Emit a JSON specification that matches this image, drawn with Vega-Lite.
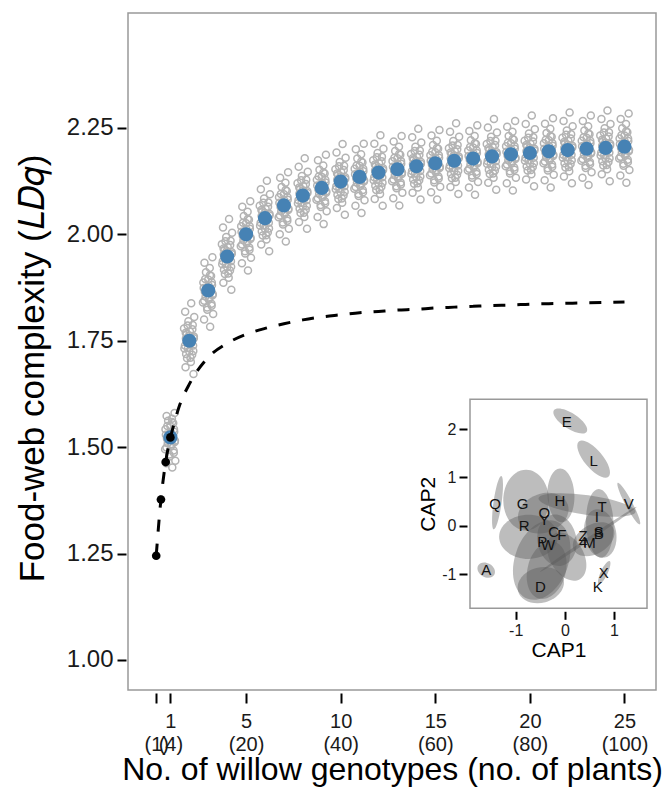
{
"$schema": "https://vega.github.io/schema/vega-lite/v6.json",
"width": 528, "height": 677,
"autosize": {"type": "none"},
"padding": {"left": 128, "top": 13, "right": 8, "bottom": 100},
"background": "white",
"config": {
 "view": {"stroke": "#999999", "strokeWidth": 1.5},
 "font": "Liberation Sans",
 "axis": {"domain": false, "grid": false, "tickColor": "#000000", "tickWidth": 2, "labelColor": "#1a1a1a", "titleColor": "#000000", "labelFont": "Liberation Sans", "titleFont": "Liberation Sans", "titleFontWeight": "normal"}
},
"datasets": {
 "gray": [
{"g":1.10,"v":1.452},{"g":0.78,"v":1.462},{"g":1.26,"v":1.468},{"g":0.95,"v":1.478},{"g":1.18,"v":1.487},{"g":0.72,"v":1.495},{"g":1.03,"v":1.502},{"g":0.86,"v":1.509},{"g":1.24,"v":1.515},{"g":0.82,"v":1.520},{"g":1.12,"v":1.525},{"g":0.92,"v":1.530},{"g":1.20,"v":1.536},{"g":0.74,"v":1.542},{"g":1.00,"v":1.549},{"g":1.15,"v":1.557},{"g":0.88,"v":1.562},{"g":1.08,"v":1.567},{"g":0.80,"v":1.573},{"g":1.22,"v":1.580},
{"g":2.22,"v":1.672},{"g":1.80,"v":1.688},{"g":2.08,"v":1.700},{"g":1.88,"v":1.709},{"g":2.15,"v":1.717},{"g":2.00,"v":1.725},{"g":1.74,"v":1.732},{"g":2.20,"v":1.739},{"g":1.92,"v":1.745},{"g":2.12,"v":1.750},{"g":1.82,"v":1.755},{"g":2.24,"v":1.760},{"g":1.86,"v":1.766},{"g":2.03,"v":1.772},{"g":1.72,"v":1.779},{"g":2.18,"v":1.787},{"g":1.95,"v":1.796},{"g":2.26,"v":1.806},{"g":1.78,"v":1.818},{"g":2.10,"v":1.838},
{"g":3.10,"v":1.783},{"g":2.78,"v":1.800},{"g":3.26,"v":1.813},{"g":2.95,"v":1.823},{"g":3.18,"v":1.832},{"g":2.72,"v":1.840},{"g":3.03,"v":1.847},{"g":2.86,"v":1.854},{"g":3.24,"v":1.860},{"g":2.82,"v":1.865},{"g":3.12,"v":1.870},{"g":2.92,"v":1.875},{"g":3.20,"v":1.881},{"g":2.74,"v":1.887},{"g":3.00,"v":1.894},{"g":3.15,"v":1.902},{"g":2.88,"v":1.911},{"g":3.08,"v":1.921},{"g":2.80,"v":1.933},{"g":3.22,"v":1.946},
{"g":4.22,"v":1.870},{"g":3.80,"v":1.886},{"g":4.08,"v":1.898},{"g":3.88,"v":1.907},{"g":4.15,"v":1.915},{"g":4.00,"v":1.923},{"g":3.74,"v":1.930},{"g":4.20,"v":1.937},{"g":3.92,"v":1.943},{"g":4.12,"v":1.948},{"g":3.82,"v":1.953},{"g":4.24,"v":1.958},{"g":3.86,"v":1.964},{"g":4.03,"v":1.970},{"g":3.72,"v":1.977},{"g":4.18,"v":1.985},{"g":3.95,"v":1.994},{"g":4.26,"v":2.004},{"g":3.78,"v":2.016},{"g":4.10,"v":2.036},
{"g":5.10,"v":1.915},{"g":4.78,"v":1.932},{"g":5.26,"v":1.945},{"g":4.95,"v":1.955},{"g":5.18,"v":1.964},{"g":4.72,"v":1.972},{"g":5.03,"v":1.979},{"g":4.86,"v":1.986},{"g":5.24,"v":1.992},{"g":4.82,"v":1.997},{"g":5.12,"v":2.002},{"g":4.92,"v":2.007},{"g":5.20,"v":2.013},{"g":4.74,"v":2.019},{"g":5.00,"v":2.026},{"g":5.15,"v":2.034},{"g":4.88,"v":2.043},{"g":5.08,"v":2.053},{"g":4.80,"v":2.065},{"g":5.22,"v":2.078},
{"g":6.22,"v":1.960},{"g":5.80,"v":1.976},{"g":6.08,"v":1.988},{"g":5.88,"v":1.997},{"g":6.15,"v":2.005},{"g":6.00,"v":2.013},{"g":5.74,"v":2.020},{"g":6.20,"v":2.027},{"g":5.92,"v":2.033},{"g":6.12,"v":2.038},{"g":5.82,"v":2.043},{"g":6.24,"v":2.048},{"g":5.86,"v":2.054},{"g":6.03,"v":2.060},{"g":5.72,"v":2.067},{"g":6.18,"v":2.075},{"g":5.95,"v":2.084},{"g":6.26,"v":2.094},{"g":5.78,"v":2.106},{"g":6.10,"v":2.126},
{"g":7.10,"v":1.983},{"g":6.78,"v":2.000},{"g":7.26,"v":2.013},{"g":6.95,"v":2.023},{"g":7.18,"v":2.032},{"g":6.72,"v":2.040},{"g":7.03,"v":2.047},{"g":6.86,"v":2.054},{"g":7.24,"v":2.060},{"g":6.82,"v":2.065},{"g":7.12,"v":2.070},{"g":6.92,"v":2.075},{"g":7.20,"v":2.081},{"g":6.74,"v":2.087},{"g":7.00,"v":2.094},{"g":7.15,"v":2.102},{"g":6.88,"v":2.111},{"g":7.08,"v":2.121},{"g":6.80,"v":2.133},{"g":7.22,"v":2.146},
{"g":8.22,"v":2.013},{"g":7.80,"v":2.029},{"g":8.08,"v":2.041},{"g":7.88,"v":2.050},{"g":8.15,"v":2.058},{"g":8.00,"v":2.066},{"g":7.74,"v":2.073},{"g":8.20,"v":2.080},{"g":7.92,"v":2.086},{"g":8.12,"v":2.091},{"g":7.82,"v":2.096},{"g":8.24,"v":2.101},{"g":7.86,"v":2.107},{"g":8.03,"v":2.113},{"g":7.72,"v":2.120},{"g":8.18,"v":2.128},{"g":7.95,"v":2.137},{"g":8.26,"v":2.147},{"g":7.78,"v":2.159},{"g":8.10,"v":2.179},
{"g":9.10,"v":2.024},{"g":8.78,"v":2.041},{"g":9.26,"v":2.054},{"g":8.95,"v":2.064},{"g":9.18,"v":2.073},{"g":8.72,"v":2.081},{"g":9.03,"v":2.088},{"g":8.86,"v":2.095},{"g":9.24,"v":2.101},{"g":8.82,"v":2.106},{"g":9.12,"v":2.111},{"g":8.92,"v":2.116},{"g":9.20,"v":2.122},{"g":8.74,"v":2.128},{"g":9.00,"v":2.135},{"g":9.15,"v":2.143},{"g":8.88,"v":2.152},{"g":9.08,"v":2.162},{"g":8.80,"v":2.174},{"g":9.22,"v":2.187},
{"g":10.22,"v":2.046},{"g":9.80,"v":2.062},{"g":10.08,"v":2.074},{"g":9.88,"v":2.083},{"g":10.15,"v":2.091},{"g":10.00,"v":2.099},{"g":9.74,"v":2.106},{"g":10.20,"v":2.113},{"g":9.92,"v":2.119},{"g":10.12,"v":2.124},{"g":9.82,"v":2.129},{"g":10.24,"v":2.134},{"g":9.86,"v":2.140},{"g":10.03,"v":2.146},{"g":9.72,"v":2.153},{"g":10.18,"v":2.161},{"g":9.95,"v":2.170},{"g":10.26,"v":2.180},{"g":9.78,"v":2.192},{"g":10.10,"v":2.212},
{"g":11.10,"v":2.050},{"g":10.78,"v":2.067},{"g":11.26,"v":2.080},{"g":10.95,"v":2.090},{"g":11.18,"v":2.099},{"g":10.72,"v":2.107},{"g":11.03,"v":2.114},{"g":10.86,"v":2.121},{"g":11.24,"v":2.127},{"g":10.82,"v":2.132},{"g":11.12,"v":2.137},{"g":10.92,"v":2.142},{"g":11.20,"v":2.148},{"g":10.74,"v":2.154},{"g":11.00,"v":2.161},{"g":11.15,"v":2.169},{"g":10.88,"v":2.178},{"g":11.08,"v":2.188},{"g":10.80,"v":2.200},{"g":11.22,"v":2.213},
{"g":12.22,"v":2.067},{"g":11.80,"v":2.083},{"g":12.08,"v":2.095},{"g":11.88,"v":2.104},{"g":12.15,"v":2.112},{"g":12.00,"v":2.120},{"g":11.74,"v":2.127},{"g":12.20,"v":2.134},{"g":11.92,"v":2.140},{"g":12.12,"v":2.145},{"g":11.82,"v":2.150},{"g":12.24,"v":2.155},{"g":11.86,"v":2.161},{"g":12.03,"v":2.167},{"g":11.72,"v":2.174},{"g":12.18,"v":2.182},{"g":11.95,"v":2.191},{"g":12.26,"v":2.201},{"g":11.78,"v":2.213},{"g":12.10,"v":2.233},
{"g":13.10,"v":2.068},{"g":12.78,"v":2.085},{"g":13.26,"v":2.098},{"g":12.95,"v":2.108},{"g":13.18,"v":2.117},{"g":12.72,"v":2.125},{"g":13.03,"v":2.132},{"g":12.86,"v":2.139},{"g":13.24,"v":2.145},{"g":12.82,"v":2.150},{"g":13.12,"v":2.155},{"g":12.92,"v":2.160},{"g":13.20,"v":2.166},{"g":12.74,"v":2.172},{"g":13.00,"v":2.179},{"g":13.15,"v":2.187},{"g":12.88,"v":2.196},{"g":13.08,"v":2.206},{"g":12.80,"v":2.218},{"g":13.22,"v":2.231},
{"g":14.22,"v":2.082},{"g":13.80,"v":2.098},{"g":14.08,"v":2.110},{"g":13.88,"v":2.119},{"g":14.15,"v":2.127},{"g":14.00,"v":2.135},{"g":13.74,"v":2.142},{"g":14.20,"v":2.149},{"g":13.92,"v":2.155},{"g":14.12,"v":2.160},{"g":13.82,"v":2.165},{"g":14.24,"v":2.170},{"g":13.86,"v":2.176},{"g":14.03,"v":2.182},{"g":13.72,"v":2.189},{"g":14.18,"v":2.197},{"g":13.95,"v":2.206},{"g":14.26,"v":2.216},{"g":13.78,"v":2.228},{"g":14.10,"v":2.248},
{"g":15.10,"v":2.082},{"g":14.78,"v":2.099},{"g":15.26,"v":2.112},{"g":14.95,"v":2.122},{"g":15.18,"v":2.131},{"g":14.72,"v":2.139},{"g":15.03,"v":2.146},{"g":14.86,"v":2.153},{"g":15.24,"v":2.159},{"g":14.82,"v":2.164},{"g":15.12,"v":2.169},{"g":14.92,"v":2.174},{"g":15.20,"v":2.180},{"g":14.74,"v":2.186},{"g":15.00,"v":2.193},{"g":15.15,"v":2.201},{"g":14.88,"v":2.210},{"g":15.08,"v":2.220},{"g":14.80,"v":2.232},{"g":15.22,"v":2.245},
{"g":16.22,"v":2.095},{"g":15.80,"v":2.111},{"g":16.08,"v":2.123},{"g":15.88,"v":2.132},{"g":16.15,"v":2.140},{"g":16.00,"v":2.148},{"g":15.74,"v":2.155},{"g":16.20,"v":2.162},{"g":15.92,"v":2.168},{"g":16.12,"v":2.173},{"g":15.82,"v":2.178},{"g":16.24,"v":2.183},{"g":15.86,"v":2.189},{"g":16.03,"v":2.195},{"g":15.72,"v":2.202},{"g":16.18,"v":2.210},{"g":15.95,"v":2.219},{"g":16.26,"v":2.229},{"g":15.78,"v":2.241},{"g":16.10,"v":2.261},
{"g":17.10,"v":2.093},{"g":16.78,"v":2.110},{"g":17.26,"v":2.123},{"g":16.95,"v":2.133},{"g":17.18,"v":2.142},{"g":16.72,"v":2.150},{"g":17.03,"v":2.157},{"g":16.86,"v":2.164},{"g":17.24,"v":2.170},{"g":16.82,"v":2.175},{"g":17.12,"v":2.180},{"g":16.92,"v":2.185},{"g":17.20,"v":2.191},{"g":16.74,"v":2.197},{"g":17.00,"v":2.204},{"g":17.15,"v":2.212},{"g":16.88,"v":2.221},{"g":17.08,"v":2.231},{"g":16.80,"v":2.243},{"g":17.22,"v":2.256},
{"g":18.22,"v":2.105},{"g":17.80,"v":2.121},{"g":18.08,"v":2.133},{"g":17.88,"v":2.142},{"g":18.15,"v":2.150},{"g":18.00,"v":2.158},{"g":17.74,"v":2.165},{"g":18.20,"v":2.172},{"g":17.92,"v":2.178},{"g":18.12,"v":2.183},{"g":17.82,"v":2.188},{"g":18.24,"v":2.193},{"g":17.86,"v":2.199},{"g":18.03,"v":2.205},{"g":17.72,"v":2.212},{"g":18.18,"v":2.220},{"g":17.95,"v":2.229},{"g":18.26,"v":2.239},{"g":17.78,"v":2.251},{"g":18.10,"v":2.271},
{"g":19.10,"v":2.103},{"g":18.78,"v":2.120},{"g":19.26,"v":2.133},{"g":18.95,"v":2.143},{"g":19.18,"v":2.152},{"g":18.72,"v":2.160},{"g":19.03,"v":2.167},{"g":18.86,"v":2.174},{"g":19.24,"v":2.180},{"g":18.82,"v":2.185},{"g":19.12,"v":2.190},{"g":18.92,"v":2.195},{"g":19.20,"v":2.201},{"g":18.74,"v":2.207},{"g":19.00,"v":2.214},{"g":19.15,"v":2.222},{"g":18.88,"v":2.231},{"g":19.08,"v":2.241},{"g":18.80,"v":2.253},{"g":19.22,"v":2.266},
{"g":20.22,"v":2.113},{"g":19.80,"v":2.129},{"g":20.08,"v":2.141},{"g":19.88,"v":2.150},{"g":20.15,"v":2.158},{"g":20.00,"v":2.166},{"g":19.74,"v":2.173},{"g":20.20,"v":2.180},{"g":19.92,"v":2.186},{"g":20.12,"v":2.191},{"g":19.82,"v":2.196},{"g":20.24,"v":2.201},{"g":19.86,"v":2.207},{"g":20.03,"v":2.213},{"g":19.72,"v":2.220},{"g":20.18,"v":2.228},{"g":19.95,"v":2.237},{"g":20.26,"v":2.247},{"g":19.78,"v":2.259},{"g":20.10,"v":2.279},
{"g":21.10,"v":2.110},{"g":20.78,"v":2.127},{"g":21.26,"v":2.140},{"g":20.95,"v":2.150},{"g":21.18,"v":2.159},{"g":20.72,"v":2.167},{"g":21.03,"v":2.174},{"g":20.86,"v":2.181},{"g":21.24,"v":2.187},{"g":20.82,"v":2.192},{"g":21.12,"v":2.197},{"g":20.92,"v":2.202},{"g":21.20,"v":2.208},{"g":20.74,"v":2.214},{"g":21.00,"v":2.221},{"g":21.15,"v":2.229},{"g":20.88,"v":2.238},{"g":21.08,"v":2.248},{"g":20.80,"v":2.260},{"g":21.22,"v":2.273},
{"g":22.22,"v":2.120},{"g":21.80,"v":2.136},{"g":22.08,"v":2.148},{"g":21.88,"v":2.157},{"g":22.15,"v":2.165},{"g":22.00,"v":2.173},{"g":21.74,"v":2.180},{"g":22.20,"v":2.187},{"g":21.92,"v":2.193},{"g":22.12,"v":2.198},{"g":21.82,"v":2.203},{"g":22.24,"v":2.208},{"g":21.86,"v":2.214},{"g":22.03,"v":2.220},{"g":21.72,"v":2.227},{"g":22.18,"v":2.235},{"g":21.95,"v":2.244},{"g":22.26,"v":2.254},{"g":21.78,"v":2.266},{"g":22.10,"v":2.286},
{"g":23.10,"v":2.116},{"g":22.78,"v":2.133},{"g":23.26,"v":2.146},{"g":22.95,"v":2.156},{"g":23.18,"v":2.165},{"g":22.72,"v":2.173},{"g":23.03,"v":2.180},{"g":22.86,"v":2.187},{"g":23.24,"v":2.193},{"g":22.82,"v":2.198},{"g":23.12,"v":2.203},{"g":22.92,"v":2.208},{"g":23.20,"v":2.214},{"g":22.74,"v":2.220},{"g":23.00,"v":2.227},{"g":23.15,"v":2.235},{"g":22.88,"v":2.244},{"g":23.08,"v":2.254},{"g":22.80,"v":2.266},{"g":23.22,"v":2.279},
{"g":24.22,"v":2.125},{"g":23.80,"v":2.141},{"g":24.08,"v":2.153},{"g":23.88,"v":2.162},{"g":24.15,"v":2.170},{"g":24.00,"v":2.178},{"g":23.74,"v":2.185},{"g":24.20,"v":2.192},{"g":23.92,"v":2.198},{"g":24.12,"v":2.203},{"g":23.82,"v":2.208},{"g":24.24,"v":2.213},{"g":23.86,"v":2.219},{"g":24.03,"v":2.225},{"g":23.72,"v":2.232},{"g":24.18,"v":2.240},{"g":23.95,"v":2.249},{"g":24.26,"v":2.259},{"g":23.78,"v":2.271},{"g":24.10,"v":2.291},
{"g":25.10,"v":2.121},{"g":24.78,"v":2.138},{"g":25.26,"v":2.151},{"g":24.95,"v":2.161},{"g":25.18,"v":2.170},{"g":24.72,"v":2.178},{"g":25.03,"v":2.185},{"g":24.86,"v":2.192},{"g":25.24,"v":2.198},{"g":24.82,"v":2.203},{"g":25.12,"v":2.208},{"g":24.92,"v":2.213},{"g":25.20,"v":2.219},{"g":24.74,"v":2.225},{"g":25.00,"v":2.232},{"g":25.15,"v":2.240},{"g":24.88,"v":2.249},{"g":25.08,"v":2.259},{"g":24.80,"v":2.271},{"g":25.22,"v":2.284},
{"g":0.94,"v":1.483},{"g":1.17,"v":1.492},{"g":0.79,"v":1.499},{"g":1.07,"v":1.506},{"g":1.23,"v":1.512},{"g":0.89,"v":1.518},{"g":1.13,"v":1.523},{"g":0.76,"v":1.529},{"g":1.02,"v":1.535},{"g":1.19,"v":1.542},{"g":0.84,"v":1.550},{"g":1.09,"v":1.559},
{"g":2.06,"v":1.710},{"g":1.83,"v":1.719},{"g":2.21,"v":1.726},{"g":1.93,"v":1.733},{"g":1.77,"v":1.739},{"g":2.11,"v":1.745},{"g":1.87,"v":1.750},{"g":2.24,"v":1.756},{"g":1.98,"v":1.762},{"g":1.81,"v":1.769},{"g":2.16,"v":1.777},{"g":1.91,"v":1.786},
{"g":2.94,"v":1.828},{"g":3.17,"v":1.837},{"g":2.79,"v":1.844},{"g":3.07,"v":1.851},{"g":3.23,"v":1.857},{"g":2.89,"v":1.863},{"g":3.13,"v":1.868},{"g":2.76,"v":1.874},{"g":3.02,"v":1.880},{"g":3.19,"v":1.887},{"g":2.84,"v":1.895},{"g":3.09,"v":1.904},
{"g":4.06,"v":1.908},{"g":3.83,"v":1.917},{"g":4.21,"v":1.924},{"g":3.93,"v":1.931},{"g":3.77,"v":1.937},{"g":4.11,"v":1.943},{"g":3.87,"v":1.948},{"g":4.24,"v":1.954},{"g":3.98,"v":1.960},{"g":3.81,"v":1.967},{"g":4.16,"v":1.975},{"g":3.91,"v":1.984},
{"g":4.94,"v":1.960},{"g":5.17,"v":1.969},{"g":4.79,"v":1.976},{"g":5.07,"v":1.983},{"g":5.23,"v":1.989},{"g":4.89,"v":1.995},{"g":5.13,"v":2.000},{"g":4.76,"v":2.006},{"g":5.02,"v":2.012},{"g":5.19,"v":2.019},{"g":4.84,"v":2.027},{"g":5.09,"v":2.036},
{"g":6.06,"v":1.998},{"g":5.83,"v":2.007},{"g":6.21,"v":2.014},{"g":5.93,"v":2.021},{"g":5.77,"v":2.027},{"g":6.11,"v":2.033},{"g":5.87,"v":2.038},{"g":6.24,"v":2.044},{"g":5.98,"v":2.050},{"g":5.81,"v":2.057},{"g":6.16,"v":2.065},{"g":5.91,"v":2.074},
{"g":6.94,"v":2.028},{"g":7.17,"v":2.037},{"g":6.79,"v":2.044},{"g":7.07,"v":2.051},{"g":7.23,"v":2.057},{"g":6.89,"v":2.063},{"g":7.13,"v":2.068},{"g":6.76,"v":2.074},{"g":7.02,"v":2.080},{"g":7.19,"v":2.087},{"g":6.84,"v":2.095},{"g":7.09,"v":2.104},
{"g":8.06,"v":2.051},{"g":7.83,"v":2.060},{"g":8.21,"v":2.067},{"g":7.93,"v":2.074},{"g":7.77,"v":2.080},{"g":8.11,"v":2.086},{"g":7.87,"v":2.091},{"g":8.24,"v":2.097},{"g":7.98,"v":2.103},{"g":7.81,"v":2.110},{"g":8.16,"v":2.118},{"g":7.91,"v":2.127},
{"g":8.94,"v":2.069},{"g":9.17,"v":2.078},{"g":8.79,"v":2.085},{"g":9.07,"v":2.092},{"g":9.23,"v":2.098},{"g":8.89,"v":2.104},{"g":9.13,"v":2.109},{"g":8.76,"v":2.115},{"g":9.02,"v":2.121},{"g":9.19,"v":2.128},{"g":8.84,"v":2.136},{"g":9.09,"v":2.145},
{"g":10.06,"v":2.084},{"g":9.83,"v":2.093},{"g":10.21,"v":2.100},{"g":9.93,"v":2.107},{"g":9.77,"v":2.113},{"g":10.11,"v":2.119},{"g":9.87,"v":2.124},{"g":10.24,"v":2.130},{"g":9.98,"v":2.136},{"g":9.81,"v":2.143},{"g":10.16,"v":2.151},{"g":9.91,"v":2.160},
{"g":10.94,"v":2.095},{"g":11.17,"v":2.104},{"g":10.79,"v":2.111},{"g":11.07,"v":2.118},{"g":11.23,"v":2.124},{"g":10.89,"v":2.130},{"g":11.13,"v":2.135},{"g":10.76,"v":2.141},{"g":11.02,"v":2.147},{"g":11.19,"v":2.154},{"g":10.84,"v":2.162},{"g":11.09,"v":2.171},
{"g":12.06,"v":2.105},{"g":11.83,"v":2.114},{"g":12.21,"v":2.121},{"g":11.93,"v":2.128},{"g":11.77,"v":2.134},{"g":12.11,"v":2.140},{"g":11.87,"v":2.145},{"g":12.24,"v":2.151},{"g":11.98,"v":2.157},{"g":11.81,"v":2.164},{"g":12.16,"v":2.172},{"g":11.91,"v":2.181},
{"g":12.94,"v":2.113},{"g":13.17,"v":2.122},{"g":12.79,"v":2.129},{"g":13.07,"v":2.136},{"g":13.23,"v":2.142},{"g":12.89,"v":2.148},{"g":13.13,"v":2.153},{"g":12.76,"v":2.159},{"g":13.02,"v":2.165},{"g":13.19,"v":2.172},{"g":12.84,"v":2.180},{"g":13.09,"v":2.189},
{"g":14.06,"v":2.120},{"g":13.83,"v":2.129},{"g":14.21,"v":2.136},{"g":13.93,"v":2.143},{"g":13.77,"v":2.149},{"g":14.11,"v":2.155},{"g":13.87,"v":2.160},{"g":14.24,"v":2.166},{"g":13.98,"v":2.172},{"g":13.81,"v":2.179},{"g":14.16,"v":2.187},{"g":13.91,"v":2.196},
{"g":14.94,"v":2.127},{"g":15.17,"v":2.136},{"g":14.79,"v":2.143},{"g":15.07,"v":2.150},{"g":15.23,"v":2.156},{"g":14.89,"v":2.162},{"g":15.13,"v":2.167},{"g":14.76,"v":2.173},{"g":15.02,"v":2.179},{"g":15.19,"v":2.186},{"g":14.84,"v":2.194},{"g":15.09,"v":2.203},
{"g":16.06,"v":2.133},{"g":15.83,"v":2.142},{"g":16.21,"v":2.149},{"g":15.93,"v":2.156},{"g":15.77,"v":2.162},{"g":16.11,"v":2.168},{"g":15.87,"v":2.173},{"g":16.24,"v":2.179},{"g":15.98,"v":2.185},{"g":15.81,"v":2.192},{"g":16.16,"v":2.200},{"g":15.91,"v":2.209},
{"g":16.94,"v":2.138},{"g":17.17,"v":2.147},{"g":16.79,"v":2.154},{"g":17.07,"v":2.161},{"g":17.23,"v":2.167},{"g":16.89,"v":2.173},{"g":17.13,"v":2.178},{"g":16.76,"v":2.184},{"g":17.02,"v":2.190},{"g":17.19,"v":2.197},{"g":16.84,"v":2.205},{"g":17.09,"v":2.214},
{"g":18.06,"v":2.143},{"g":17.83,"v":2.152},{"g":18.21,"v":2.159},{"g":17.93,"v":2.166},{"g":17.77,"v":2.172},{"g":18.11,"v":2.178},{"g":17.87,"v":2.183},{"g":18.24,"v":2.189},{"g":17.98,"v":2.195},{"g":17.81,"v":2.202},{"g":18.16,"v":2.210},{"g":17.91,"v":2.219},
{"g":18.94,"v":2.148},{"g":19.17,"v":2.157},{"g":18.79,"v":2.164},{"g":19.07,"v":2.171},{"g":19.23,"v":2.177},{"g":18.89,"v":2.183},{"g":19.13,"v":2.188},{"g":18.76,"v":2.194},{"g":19.02,"v":2.200},{"g":19.19,"v":2.207},{"g":18.84,"v":2.215},{"g":19.09,"v":2.224},
{"g":20.06,"v":2.151},{"g":19.83,"v":2.160},{"g":20.21,"v":2.167},{"g":19.93,"v":2.174},{"g":19.77,"v":2.180},{"g":20.11,"v":2.186},{"g":19.87,"v":2.191},{"g":20.24,"v":2.197},{"g":19.98,"v":2.203},{"g":19.81,"v":2.210},{"g":20.16,"v":2.218},{"g":19.91,"v":2.227},
{"g":20.94,"v":2.155},{"g":21.17,"v":2.164},{"g":20.79,"v":2.171},{"g":21.07,"v":2.178},{"g":21.23,"v":2.184},{"g":20.89,"v":2.190},{"g":21.13,"v":2.195},{"g":20.76,"v":2.201},{"g":21.02,"v":2.207},{"g":21.19,"v":2.214},{"g":20.84,"v":2.222},{"g":21.09,"v":2.231},
{"g":22.06,"v":2.158},{"g":21.83,"v":2.167},{"g":22.21,"v":2.174},{"g":21.93,"v":2.181},{"g":21.77,"v":2.187},{"g":22.11,"v":2.193},{"g":21.87,"v":2.198},{"g":22.24,"v":2.204},{"g":21.98,"v":2.210},{"g":21.81,"v":2.217},{"g":22.16,"v":2.225},{"g":21.91,"v":2.234},
{"g":22.94,"v":2.161},{"g":23.17,"v":2.170},{"g":22.79,"v":2.177},{"g":23.07,"v":2.184},{"g":23.23,"v":2.190},{"g":22.89,"v":2.196},{"g":23.13,"v":2.201},{"g":22.76,"v":2.207},{"g":23.02,"v":2.213},{"g":23.19,"v":2.220},{"g":22.84,"v":2.228},{"g":23.09,"v":2.237},
{"g":24.06,"v":2.163},{"g":23.83,"v":2.172},{"g":24.21,"v":2.179},{"g":23.93,"v":2.186},{"g":23.77,"v":2.192},{"g":24.11,"v":2.198},{"g":23.87,"v":2.203},{"g":24.24,"v":2.209},{"g":23.98,"v":2.215},{"g":23.81,"v":2.222},{"g":24.16,"v":2.230},{"g":23.91,"v":2.239},
{"g":24.94,"v":2.166},{"g":25.17,"v":2.175},{"g":24.79,"v":2.182},{"g":25.07,"v":2.189},{"g":25.23,"v":2.195},{"g":24.89,"v":2.201},{"g":25.13,"v":2.206},{"g":24.76,"v":2.212},{"g":25.02,"v":2.218},{"g":25.19,"v":2.225},{"g":24.84,"v":2.233},{"g":25.09,"v":2.242}
 ],
 "means": [
{"g":1,"v":1.523},{"g":2,"v":1.750},{"g":3,"v":1.868},{"g":4,"v":1.948},{"g":5,"v":2.000},{"g":6,"v":2.038},{"g":7,"v":2.068},{"g":8,"v":2.091},{"g":9,"v":2.109},{"g":10,"v":2.124},{"g":11,"v":2.135},{"g":12,"v":2.145},{"g":13,"v":2.153},{"g":14,"v":2.160},{"g":15,"v":2.167},{"g":16,"v":2.173},{"g":17,"v":2.178},{"g":18,"v":2.183},{"g":19,"v":2.188},{"g":20,"v":2.191},{"g":21,"v":2.195},{"g":22,"v":2.198},{"g":23,"v":2.201},{"g":24,"v":2.203},{"g":25,"v":2.206}
 ],
 "expected": [
{"part":"plants","g":0.25,"v":1.245},{"part":"plants","g":0.5,"v":1.377},{"part":"plants","g":0.75,"v":1.465},{"part":"plants","g":1,"v":1.523},
{"part":"genotypes","g":1,"v":1.523},{"part":"genotypes","g":1.5,"v":1.600},{"part":"genotypes","g":2,"v":1.648},{"part":"genotypes","g":3,"v":1.711},{"part":"genotypes","g":4,"v":1.744},{"part":"genotypes","g":5,"v":1.765},{"part":"genotypes","g":6,"v":1.779},{"part":"genotypes","g":7,"v":1.790},{"part":"genotypes","g":8,"v":1.799},{"part":"genotypes","g":9,"v":1.806},{"part":"genotypes","g":10,"v":1.811},{"part":"genotypes","g":11,"v":1.816},{"part":"genotypes","g":12,"v":1.819},{"part":"genotypes","g":13,"v":1.822},{"part":"genotypes","g":14,"v":1.824},{"part":"genotypes","g":15,"v":1.827},{"part":"genotypes","g":16,"v":1.829},{"part":"genotypes","g":17,"v":1.831},{"part":"genotypes","g":18,"v":1.833},{"part":"genotypes","g":19,"v":1.834},{"part":"genotypes","g":20,"v":1.836},{"part":"genotypes","g":21,"v":1.837},{"part":"genotypes","g":22,"v":1.838},{"part":"genotypes","g":23,"v":1.839},{"part":"genotypes","g":24,"v":1.840},{"part":"genotypes","g":25,"v":1.841}
 ],
 "ellipses": [
{"c1":0.11,"c2":2.17,"a":0.4,"ratio":0.4,"ang":33},
{"c1":0.585,"c2":1.38,"a":0.47,"ratio":0.4,"ang":50},
{"c1":-1.37,"c2":0.48,"a":0.55,"ratio":0.15,"ang":-82},
{"c1":-1.6,"c2":-0.92,"a":0.19,"ratio":0.75,"ang":30},
{"c1":-0.79,"c2":0.53,"a":0.62,"ratio":0.75,"ang":90},
{"c1":-0.08,"c2":0.63,"a":0.55,"ratio":0.5,"ang":88},
{"c1":0.45,"c2":0.43,"a":1.0,"ratio":0.2,"ang":8},
{"c1":1.3,"c2":0.46,"a":0.48,"ratio":0.15,"ang":62},
{"c1":0.48,"c2":-0.28,"a":1.19,"ratio":0.03,"ang":-34},
{"c1":0.71,"c2":0.05,"a":0.7,"ratio":0.4,"ang":88},
{"c1":0.585,"c2":-0.28,"a":0.46,"ratio":0.65,"ang":-30},
{"c1":0.72,"c2":-0.16,"a":0.5,"ratio":0.65,"ang":80},
{"c1":-0.47,"c2":-0.71,"a":0.84,"ratio":0.65,"ang":-70},
{"c1":-0.74,"c2":-0.23,"a":0.6,"ratio":0.75,"ang":0},
{"c1":-0.44,"c2":0.26,"a":0.53,"ratio":0.75,"ang":-20},
{"c1":-0.16,"c2":-0.3,"a":0.53,"ratio":0.75,"ang":80},
{"c1":-0.49,"c2":-1.23,"a":0.48,"ratio":0.75,"ang":-15},
{"c1":0.8,"c2":-0.97,"a":0.26,"ratio":0.27,"ang":-65},
{"c1":-0.37,"c2":-0.92,"a":0.6,"ratio":0.65,"ang":-75},
{"c1":0.04,"c2":-0.64,"a":0.53,"ratio":0.65,"ang":60}
 ],
 "letters": [
{"c1":0.04,"c2":2.14,"label":"E"},{"c1":0.585,"c2":1.34,"label":"L"},{"c1":-1.42,"c2":0.46,"label":"Q"},{"c1":-0.86,"c2":0.46,"label":"G"},{"c1":-0.10,"c2":0.51,"label":"H"},{"c1":-0.42,"c2":0.27,"label":"O"},{"c1":-0.42,"c2":0.12,"label":"Y"},{"c1":-0.83,"c2":-0.01,"label":"R"},{"c1":-0.23,"c2":-0.12,"label":"C"},{"c1":-0.06,"c2":-0.19,"label":"F"},{"c1":-0.46,"c2":-0.33,"label":"P"},{"c1":-0.34,"c2":-0.40,"label":"W"},{"c1":0.755,"c2":0.39,"label":"T"},{"c1":0.65,"c2":0.19,"label":"I"},{"c1":0.69,"c2":-0.12,"label":"S"},{"c1":0.69,"c2":-0.18,"label":"B"},{"c1":0.37,"c2":-0.22,"label":"Z"},{"c1":0.37,"c2":-0.33,"label":"4"},{"c1":0.50,"c2":-0.35,"label":"M"},{"c1":1.30,"c2":0.46,"label":"V"},{"c1":-1.60,"c2":-0.92,"label":"A"},{"c1":-0.50,"c2":-1.26,"label":"D"},{"c1":0.79,"c2":-0.97,"label":"X"},{"c1":0.67,"c2":-1.26,"label":"K"}
 ]
},
"layer": [
 {"layer": [
  {"data": {"name": "gray"},
   "mark": {"type": "point", "shape": "circle", "filled": false, "stroke": "#b3b3b3", "strokeWidth": 1.5, "size": 49, "opacity": 1},
   "encoding": {
    "x": {"field": "g", "type": "quantitative", "scale": {"domain": [-1.241, 26.665], "nice": false, "zero": false},
      "axis": {"values": [0.25, 1, 5, 10, 15, 20, 25], "labelExpr": "datum.value < 0.5 ? [' ', '(1)'] : [format(datum.value, 'd'), '(' + format(datum.value * 4, 'd') + ')']", "labelOverlap": false, "labelBound": false, "labelFlush": false, "labelFontSize": 20, "labelLineHeight": 23, "labelPadding": 8, "tickSize": 10, "offset": 3, "title": "No. of willow genotypes (no. of plants)", "titleFontSize": 32, "titlePadding": 0}},
    "y": {"field": "v", "type": "quantitative", "scale": {"domain": [0.9295, 2.52], "nice": false, "zero": false},
      "axis": {"values": [1, 1.25, 1.5, 1.75, 2, 2.25], "format": ".2f", "labelFontSize": 24, "labelPadding": 4, "tickSize": 9, "offset": 2, "title": "Food-web complexity (𝐿𝐷𝑞)", "titleFontSize": 35, "titlePadding": 16, "titleY": 355}}
   }},
  {"data": {"name": "means"},
   "mark": {"type": "circle", "color": "#4682b4", "size": 200, "opacity": 1},
   "encoding": {"x": {"field": "g", "type": "quantitative"}, "y": {"field": "v", "type": "quantitative"}}},
  {"data": {"name": "expected"},
   "mark": {"type": "line", "color": "#000000", "strokeWidth": 3, "strokeDash": [12, 12], "interpolate": "monotone"},
   "encoding": {"x": {"field": "g", "type": "quantitative"}, "y": {"field": "v", "type": "quantitative"}, "detail": {"field": "part"}}},
  {"data": {"name": "expected"},
   "transform": [{"filter": "datum.part == 'plants'"}],
   "mark": {"type": "circle", "color": "#000000", "size": 75, "opacity": 1},
   "encoding": {"x": {"field": "g", "type": "quantitative"}, "y": {"field": "v", "type": "quantitative"}}}
 ]},
 {"layer": [
  {"data": {"values": [{}]},
   "mark": {"type": "rect", "fill": "white", "stroke": "#999999", "strokeWidth": 1.5},
   "encoding": {
    "x": {"datum": -1.93, "type": "quantitative", "scale": {"domain": [-1.93, 1.67], "range": [342, 519], "nice": false, "zero": false},
      "axis": {"orient": "bottom", "offset": -78.7, "values": [-1, 0, 1], "labelExpr": "datum.value < 0 ? '-' + abs(datum.value) : '' + datum.value", "labelFontSize": 16, "labelPadding": 3, "tickSize": 8, "title": "CAP1", "titleFontSize": 21, "titlePadding": 1}},
    "x2": {"datum": 1.67},
    "y": {"datum": -1.71, "type": "quantitative", "scale": {"domain": [-1.71, 2.62], "range": [595.3, 386.3], "nice": false, "zero": false},
      "axis": {"orient": "left", "offset": -339, "values": [-1, 0, 1, 2], "labelExpr": "datum.value < 0 ? '-' + abs(datum.value) : '' + datum.value", "labelFontSize": 16, "labelPadding": 3, "tickSize": 8, "title": "CAP2", "titleFontSize": 21, "titlePadding": 3}},
    "y2": {"datum": 2.62}
   }},
  {"data": {"name": "ellipses"},
   "mark": {"type": "point", "filled": true, "fill": "#5a5a5a", "fillOpacity": 0.4, "strokeWidth": 0},
   "encoding": {
    "x": {"field": "c1", "type": "quantitative"},
    "y": {"field": "c2", "type": "quantitative"},
    "size": {"field": "a", "type": "quantitative", "scale": {"type": "pow", "exponent": 2, "domain": [0, 1], "range": [0, 9604]}, "legend": null},
    "shape": {"field": "ratio", "type": "nominal", "scale": {"domain": [0.03, 0.15, 0.2, 0.27, 0.4, 0.5, 0.65, 0.75], "range": [
      "M-1,0A1,0.03,0,1,0,1,0A1,0.03,0,1,0,-1,0Z",
      "M-1,0A1,0.15,0,1,0,1,0A1,0.15,0,1,0,-1,0Z",
      "M-1,0A1,0.2,0,1,0,1,0A1,0.2,0,1,0,-1,0Z",
      "M-1,0A1,0.27,0,1,0,1,0A1,0.27,0,1,0,-1,0Z",
      "M-1,0A1,0.4,0,1,0,1,0A1,0.4,0,1,0,-1,0Z",
      "M-1,0A1,0.5,0,1,0,1,0A1,0.5,0,1,0,-1,0Z",
      "M-1,0A1,0.65,0,1,0,1,0A1,0.65,0,1,0,-1,0Z",
      "M-1,0A1,0.75,0,1,0,1,0A1,0.75,0,1,0,-1,0Z"]}, "legend": null},
    "angle": {"field": "ang", "type": "quantitative", "scale": null}
   }},
  {"data": {"name": "letters"},
   "mark": {"type": "text", "fontSize": 15, "font": "Liberation Sans", "color": "#111111", "baseline": "middle", "align": "center"},
   "encoding": {"x": {"field": "c1", "type": "quantitative"}, "y": {"field": "c2", "type": "quantitative"}, "text": {"field": "label"}}}
 ]}
],
"resolve": {"scale": {"x": "independent", "y": "independent"}}
}
